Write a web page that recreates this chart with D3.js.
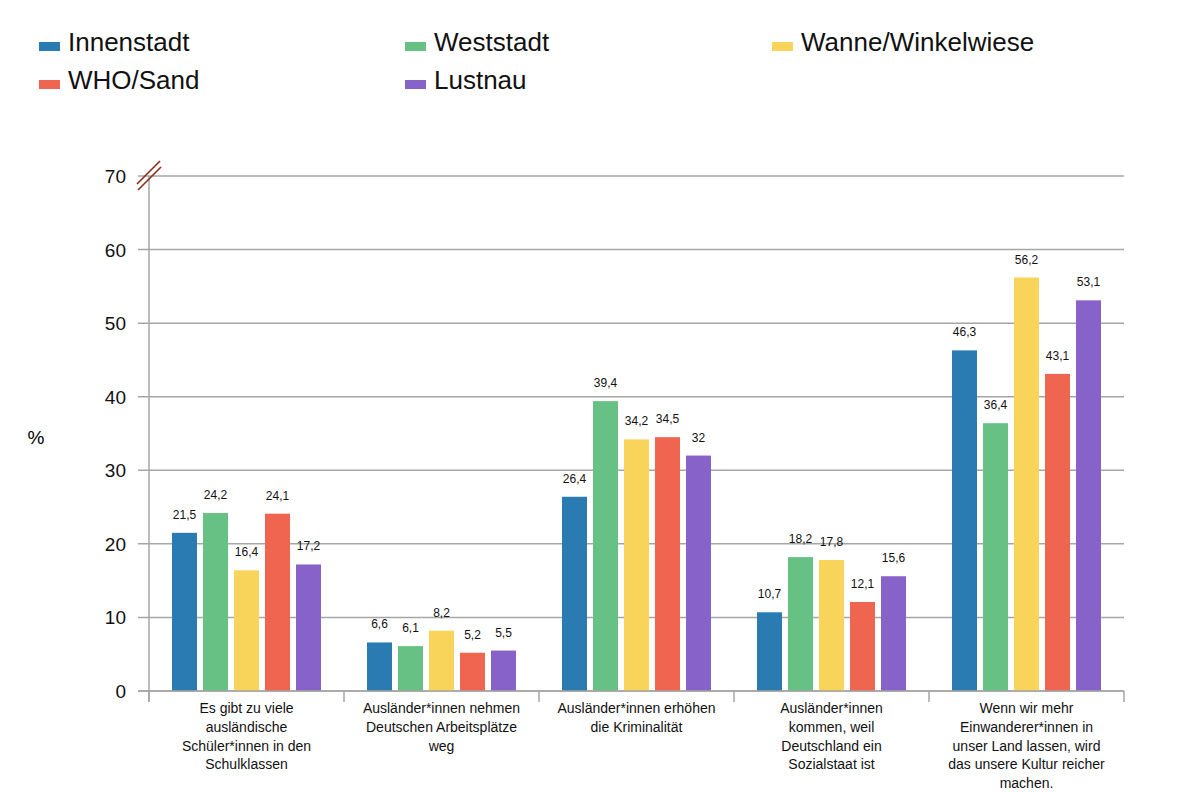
<!DOCTYPE html>
<html><head><meta charset="utf-8">
<script src="https://cdn.jsdelivr.net/npm/d3@7"></script>
<style>body{margin:0;background:#fff;font-family:"Liberation Sans",Arial,sans-serif}</style>
</head><body><svg id="c" width="1195" height="792"></svg>
<script>
const categories = [
  ["Es gibt zu viele","ausländische","Schüler*innen in den","Schulklassen"],
  ["Ausländer*innen nehmen","Deutschen Arbeitsplätze","weg"],
  ["Ausländer*innen erhöhen","die Kriminalität"],
  ["Ausländer*innen","kommen, weil","Deutschland ein","Sozialstaat ist"],
  ["Wenn wir mehr","Einwanderer*innen in","unser Land lassen, wird","das unsere Kultur reicher","machen."]
];
const seriesNames = ["Innenstadt","Weststadt","Wanne/Winkelwiese","WHO/Sand","Lustnau"];
const colors = ["#2a7bb1","#67c185","#f8d45b","#f0654f","#8763c9"];
const innenstadt = [21.5, 6.6, 26.4, 10.7, 46.3];
const weststadt  = [24.2, 6.1, 39.4, 18.2, 36.4];
const wanne      = [16.4, 8.2, 34.2, 17.8, 56.2];
const whoSand    = [24.1, 5.2, 34.5, 12.1, 43.1];
const lustnau    = [17.2, 5.5, 32, 15.6, 53.1];
const yTicks = [0,10,20,30,40,50,60,70];
const series = [innenstadt, weststadt, wanne, whoSand, lustnau];

(function(){
const svg = d3.select("#c");
const pL=149, pR=1124, pT=176, pB=691;
const x0 = d3.scaleBand().domain(d3.range(categories.length)).range([pL,pR]).paddingInner(0).paddingOuter(0);
const x1 = d3.scaleBand().domain(d3.range(seriesNames.length)).range([23, 172]).paddingInner(6/31).paddingOuter(0);
const y = d3.scaleLinear().domain([0,70]).range([pB,pT]);

svg.append("g").selectAll("line").data(yTicks).join("line")
  .attr("x1",138).attr("x2",pR).attr("y1",d=>y(d)).attr("y2",d=>y(d))
  .attr("stroke","#a6a6a6").attr("stroke-width",1.5);
svg.append("g").selectAll("text").data(yTicks).join("text")
  .attr("x",126).attr("y",d=>y(d)+7).attr("text-anchor","end")
  .attr("font-size",19).attr("fill","#111").text(d=>d);
svg.append("text").attr("x",36).attr("y",444).attr("font-size",19).attr("text-anchor","middle").text("%");
svg.append("line").attr("x1",pL).attr("x2",pL).attr("y1",pT).attr("y2",702).attr("stroke","#a6a6a6").attr("stroke-width",1.5);
svg.append("g").selectAll("line").data(d3.range(categories.length+1)).join("line")
  .attr("x1",d=>pL+d*x0.bandwidth()).attr("x2",d=>pL+d*x0.bandwidth())
  .attr("y1",pB).attr("y2",702).attr("stroke","#a6a6a6").attr("stroke-width",1.5);

const g = svg.append("g");
categories.forEach((c,ci)=>{
  series.forEach((s,si)=>{
    const xb = x0(ci)+x1(si);
    g.append("rect").attr("x",xb).attr("y",y(s[ci])).attr("width",x1.bandwidth())
      .attr("height",pB-y(s[ci])).attr("fill",colors[si]);
    g.append("text").attr("x",xb+x1.bandwidth()/2).attr("y",y(s[ci])-14)
      .attr("text-anchor","middle").attr("font-size",12).attr("fill","#111")
      .text(String(s[ci]).replace(".",","));
  });
  const t = svg.append("text").attr("text-anchor","middle").attr("font-size",14).attr("fill","#111");
  c.forEach((line,li)=>{
    t.append("tspan").attr("x",x0(ci)+x0.bandwidth()/2).attr("y",713+li*18.8).text(line);
  });
});
svg.append("line").attr("x1",138).attr("x2",pR).attr("y1",pB).attr("y2",pB).attr("stroke","#a6a6a6").attr("stroke-width",1.5);

svg.append("line").attr("x1",137).attr("y1",184).attr("x2",160).attr("y2",161).attr("stroke","#8b2a10").attr("stroke-width",1.6);
svg.append("line").attr("x1",138).attr("y1",190).attr("x2",161).attr("y2",167).attr("stroke","#8b2a10").attr("stroke-width",1.6);

const legPos = [[39,51],[405,51],[772,51],[39,89],[405,89]];
seriesNames.forEach((n,i)=>{
  const [lx,ly]=legPos[i];
  svg.append("rect").attr("x",lx).attr("y",ly-9).attr("width",21).attr("height",9).attr("fill",colors[i]);
  svg.append("text").attr("x",lx+29).attr("y",ly).attr("font-size",26).attr("fill","#111").text(n);
});
})();
</script></body></html>
